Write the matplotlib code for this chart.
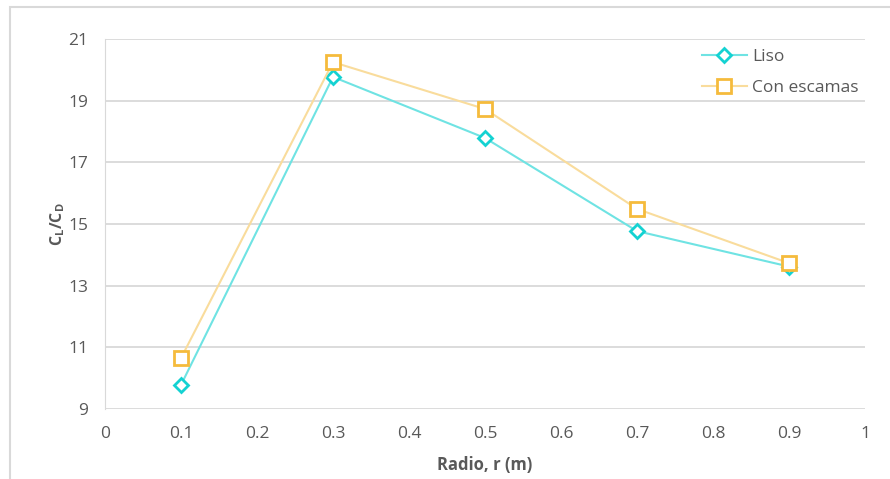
import matplotlib
matplotlib.use("Agg")
import matplotlib.pyplot as plt
from matplotlib.patches import Rectangle

radio = [0.1, 0.3, 0.5, 0.7, 0.9]
liso = [9.78, 19.77, 17.79, 14.77, 13.62]
con_escamas = [10.65, 20.25, 18.73, 15.49, 13.73]
x_ticks = [0, 0.1, 0.2, 0.3, 0.4, 0.5, 0.6, 0.7, 0.8, 0.9, 1]
y_ticks = [9, 11, 13, 15, 17, 19, 21]

plt.rcParams['font.family'] = ['Open Sans', 'DejaVu Sans']

fig = plt.figure(figsize=(8.9, 4.79), dpi=100)
ax = fig.add_axes([105 / 890, 1 - 409 / 479, 760 / 890, 370 / 479])

# outer chart frame
fig.patches.append(Rectangle((10 / 890, -0.05), 1.0, 1 - 7 / 479 + 0.05,
                             transform=fig.transFigure, fill=False,
                             edgecolor='#D9D9D9', linewidth=1.5))

ax.plot(radio, liso, color='#6FE3E3', linewidth=1.5, marker='D', markersize=7,
        markerfacecolor='white', markeredgecolor='#14D2D2', markeredgewidth=2,
        label='Liso', zorder=3)
ax.plot(radio, con_escamas, color='#F9DC9C', linewidth=1.5, marker='s', markersize=9.5,
        markerfacecolor='white', markeredgecolor='#F5BB3C', markeredgewidth=2,
        label='Con escamas', zorder=3)

ax.set_xlim(0, 1)
ax.set_ylim(9, 21)
ax.set_xticks(x_ticks)
ax.set_xticklabels([f'{v:g}' for v in x_ticks])
ax.set_yticks(y_ticks)
ax.grid(axis='y', color='#D9D9D9', linewidth=1.3)
ax.set_axisbelow(True)
for side in ['top', 'right', 'bottom']:
    ax.spines[side].set_visible(False)
ax.spines['left'].set_color('#D9D9D9')
ax.tick_params(axis='both', length=0, labelsize=12.5, colors='#595959', pad=12)
ax.tick_params(axis='y', pad=12)

ax.set_xlabel('Radio, r (m)', fontsize=12, fontweight='bold', color='#595959', labelpad=10)
ax.set_ylabel(r'C$_\mathregular{L}$/C$_\mathregular{D}$', fontsize=11.5, fontweight='bold',
              color='#595959')
ax.yaxis.set_label_coords(-38 / 760, 0.5)

leg = ax.legend(loc='upper right', bbox_to_anchor=(1.012, 1.015), frameon=False,
                fontsize=12.5, handlelength=2.6, labelspacing=0.85, handletextpad=0.3)
for t in leg.get_texts():
    t.set_color('#595959')

fig.savefig('out.png', dpi=100)
